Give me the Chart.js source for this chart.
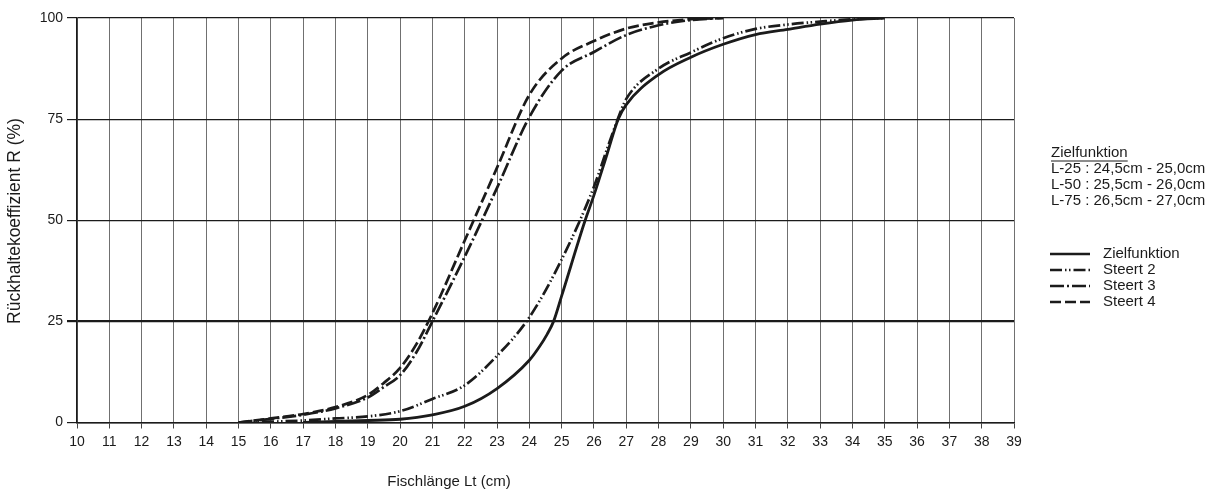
<!DOCTYPE html>
<html>
<head>
<meta charset="utf-8">
<script src="https://cdn.jsdelivr.net/npm/chart.js@4.4.1/dist/chart.umd.min.js"></script>
<style>
  html, body { margin: 0; padding: 0; background: #fff; }
</style>
</head>
<body>
<canvas id="chart" width="1218" height="495"></canvas>
<script>
// fish length (cm) and retention (%)
var zielX = [17, 18, 19, 20, 21, 22, 23, 24, 24.3, 24.55, 24.75, 25, 25.72, 26, 26.4, 26.75, 27, 28, 29, 30, 31, 32, 33, 34, 35];
var zielY = [0, 0.3, 0.5, 0.8, 1.9, 4.0, 8.4, 15.4, 18.6, 21.8, 25, 31.3, 49.8, 56.2, 66.2, 75, 78.6, 86, 90.3, 93.5, 95.9, 97.2, 98.5, 99.5, 100];

var steert2X = [15, 16, 17, 18, 19, 20, 21, 22, 23, 24, 25, 26, 26.4, 26.75, 27, 28, 29, 30, 31, 32, 33, 34, 35];
var steert2Y = [0, 0.2, 0.5, 1.0, 1.5, 2.8, 5.8, 9.2, 16.5, 26, 40.3, 58.3, 67.5, 75.3, 80, 87.5, 91.5, 95, 97.3, 98.4, 99.1, 99.7, 100];

var steert34X = [15, 16, 17, 18, 19, 19.5, 20, 20.5, 21, 22, 23, 24, 25, 26, 27, 28, 29, 30];
var steert3Y = [0, 0.9, 1.9, 3.5, 6.2, 8.8, 11.7, 17.3, 25, 41, 58, 75.5, 87, 91.6, 95.8, 98.2, 99.5, 100];
var steert4Y = [0, 1.0, 2.1, 3.8, 6.8, 9.8, 13.5, 19.3, 27, 45, 63, 81, 90, 94.3, 97.4, 98.9, 99.7, 100];

var xTitle = 'Fischlänge Lt (cm)';
var yTitle = 'Rückhaltekoeffizient R (%)';
var infoLines = ['L-25 : 24,5cm - 25,0cm', 'L-50 : 25,5cm - 26,0cm', 'L-75 : 26,5cm - 27,0cm'];
var infoHeader = 'Zielfunktion';

var ink = '#1b1b1b';
var sans = '"Liberation Sans", Arial, sans-serif';

function series(label, xs, ys, dash, width) {
  return {
    label: label,
    data: xs.map(function (x, i) { return { x: x, y: ys[i] }; }),
    borderColor: ink,
    borderWidth: width,
    borderDash: dash,
    pointRadius: 0,
    fill: false,
    cubicInterpolationMode: 'monotone'
  };
}

var extras = {
  id: 'extras',
  afterDraw: function (chart) {
    var c = chart.ctx;
    c.save();
    c.fillStyle = ink;
    c.textBaseline = 'middle';

    c.font = '15px ' + sans;
    c.textAlign = 'center';
    c.fillText(xTitle, 449, 482);

    c.save();
    c.translate(15, 221);
    c.rotate(-Math.PI / 2);
    c.font = '17.5px ' + sans;
    c.fillText(yTitle, 0, 0);
    c.restore();

    // info block
    c.font = '15px ' + sans;
    c.textAlign = 'left';
    c.fillText(infoHeader, 1051, 153);
    var w = c.measureText(infoHeader).width;
    c.strokeStyle = ink;
    c.lineWidth = 1;
    c.beginPath();
    c.moveTo(1051, 161);
    c.lineTo(1051 + w, 161);
    c.stroke();
    for (var i = 0; i < infoLines.length; i++) {
      c.fillText(infoLines[i], 1051, 169 + i * 16);
    }

    // legend
    chart.data.datasets.forEach(function (ds, i) {
      var y = 254 + i * 16;
      c.save();
      c.strokeStyle = ink;
      c.lineWidth = 2.4;
      c.setLineDash(ds.borderDash || []);
      c.beginPath();
      c.moveTo(1050, y);
      c.lineTo(1090, y);
      c.stroke();
      c.restore();
      c.fillText(ds.label, 1103, y);
    });
    c.restore();
  }
};

var tickFont = { family: sans, size: 14 };

new Chart(document.getElementById('chart'), {
  type: 'line',
  data: {
    datasets: [
      series('Zielfunktion', zielX, zielY, [], 2.8),
      series('Steert 2', steert2X, steert2Y, [12, 3, 1.5, 2.5, 1.5, 3], 2.7),
      series('Steert 3', steert34X, steert3Y, [14, 3, 2, 3], 2.7),
      series('Steert 4', steert34X, steert4Y, [11, 4], 2.7)
    ]
  },
  options: {
    responsive: false,
    animation: false,
    layout: { padding: { top: 18, right: 204, left: 0, bottom: 0 } },
    plugins: { legend: { display: false }, tooltip: { enabled: false } },
    scales: {
      x: {
        type: 'linear',
        min: 10,
        max: 39,
        ticks: { stepSize: 1, autoSkip: false, maxRotation: 0, padding: 5, color: ink, font: tickFont },
        grid: { color: '#707070', lineWidth: 1, tickLength: 6, tickColor: '#444' },
        border: { color: ink, width: 1.5 },
        afterFit: function (s) { s.height = 72.5; }
      },
      y: {
        min: 0,
        max: 100,
        ticks: { stepSize: 25, padding: 4, color: ink, font: tickFont },
        grid: {
          color: ink,
          lineWidth: function (ctx) { return ctx.tick && ctx.tick.value === 25 ? 2.2 : 1.2; },
          tickLength: 10
        },
        border: { color: ink, width: 1.5 },
        afterFit: function (s) { s.width = 77; }
      }
    }
  },
  plugins: [extras]
});
</script>
</body>
</html>
